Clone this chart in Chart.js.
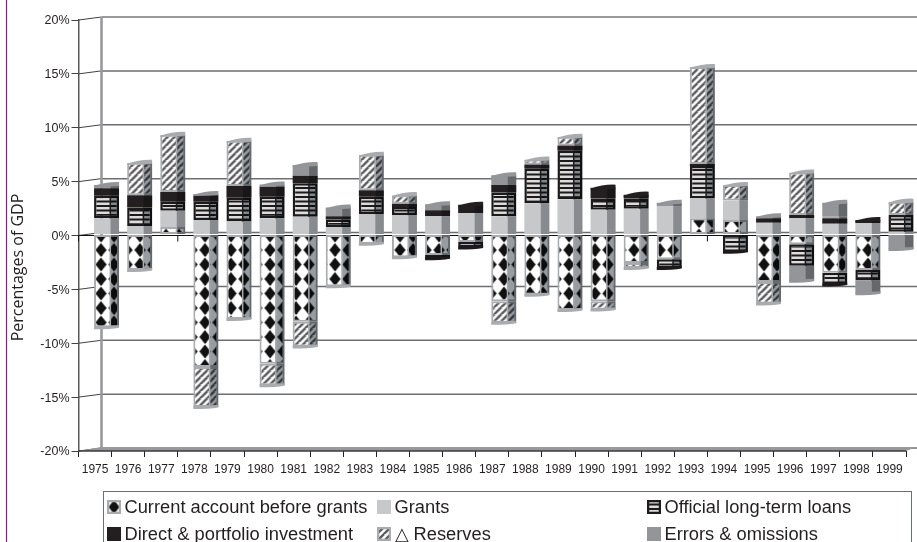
<!DOCTYPE html>
<html>
<head>
<meta charset="utf-8">
<title>Percentages of GDP</title>
<script src="https://cdn.jsdelivr.net/npm/chart.js@4"></script>
<style>
  html, body { margin: 0; padding: 0; background: #fff; overflow: hidden; }
  #wrap { position: relative; width: 917px; height: 542px; overflow: hidden; }
  #legend {
    position: absolute; left: 103px; top: 491px; width: 807px; height: 70px;
    border: 1.5px solid #6d6e71; font-family: "Liberation Sans", Arial, sans-serif;
    font-size: 18.3px; color: #231f20;
  }
  .item { position: absolute; white-space: nowrap; line-height: 20px; }
  .item canvas { position: absolute; left: 0; top: 3px; }
  .item span { position: absolute; left: 17.5px; top: 0; }
</style>
</head>
<body>
<div id="wrap">
  <canvas id="chart" width="917" height="542"></canvas>
  <div id="legend"></div>
</div>
<script>
const years = ["1975","1976","1977","1978","1979","1980","1981","1982","1983","1984","1985","1986","1987",
  "1988","1989","1990","1991","1992","1993","1994","1995","1996","1997","1998","1999"];

// percent of GDP
const currentAccount = [-8.6,-3.3,0.7,-12.3,-7.85,-12,-8.1,-4.8,-0.85,-2.1,-1.9,-0.7,-6.2,-5.6,-7,-6.2,-2.65,-2.3,1.5,1.35,-4.4,-0.9,-3.55,-3.3,0];
const grants = [1.5,0.8,1.5,1.35,1.2,1.5,1.65,0.7,1.9,1.8,1.7,2,1.7,2.9,3.27,2.3,2.4,2.6,1.85,1.8,1.1,1.5,1,1.05,0.25];
const officialLoans = [2.1,1.7,0.85,1.7,2.2,2,3.1,0.7,1.6,0.75,-0.3,-0.5,2.2,3.2,4.5,1.05,0.95,-0.8,3,-1.6,0,-2,-1.1,-0.95,1.55];
const directInvestment = [0.7,1.15,0.9,0.6,1.1,0.93,0.7,0.3,0.6,0.3,0.55,0.75,0.7,0.4,0.5,1,0.35,0,0.2,0,0.4,0.3,0.5,0.3,0];
const reserves = [0,3,5.3,-3.7,4.2,-2,-2.3,0,3.3,0.8,0,0,-2,0.45,0.8,-0.75,-0.45,0,9,1.45,-2,3.95,0.15,0,1.25];
const errorsOmissions = [0.3,0,0,0.1,0,0.2,1,0.8,0,0,0.55,0,0.9,0,0,0,0,0.35,0,0,0.2,-1.4,1.3,-1.2,-1.35];

const FONT = '"Liberation Sans", Arial, sans-serif';
const DEPTH_X = 23, DEPTH_Y = 3;

function tile(w, h, paint) {
  const c = document.createElement("canvas");
  c.width = w; c.height = h;
  paint(c.getContext("2d"));
  return c.getContext("2d").createPattern(c, "repeat");
}

// two diamonds per tile so the vertical period can be 14.5, drawn wrapped at the edges
const diamonds = tile(13, 29, g => {
  g.fillStyle = "#fff"; g.fillRect(0, 0, 13, 29);
  g.fillStyle = "#111";
  [-1.5, 11.5].forEach(cx => {
    [-10, 4.5, 19, 33.5].forEach(cy => {
      g.beginPath();
      g.moveTo(cx, cy - 7); g.lineTo(cx + 5.6, cy); g.lineTo(cx, cy + 7); g.lineTo(cx - 5.6, cy);
      g.fill();
    });
  });
});
const hatch = tile(7, 7, g => {
  g.fillStyle = "#fff"; g.fillRect(0, 0, 7, 7);
  g.strokeStyle = "#5a5b5d"; g.lineWidth = 2.4;
  [[-7, 7, 0, 0], [0, 7, 7, 0], [0, 14, 14, 0]].forEach(l => {
    g.beginPath(); g.moveTo(l[0], l[1]); g.lineTo(l[2], l[3]); g.stroke();
  });
});
const stripes = tile(5, 9, g => {
  g.fillStyle = "#1c1a1b"; g.fillRect(0, 0, 5, 9);
  g.fillStyle = "#dcdcdc"; g.fillRect(0, 1, 5, 2.5); g.fillRect(0, 5.5, 5, 2.5);
});

const toBars = values => values.map(v => v || null);

const series = [
  { label: "Current account before grants", data: toBars(currentAccount), backgroundColor: diamonds, borderColor: "#a9abae", borderWidth: 2, cap: "#a9abae", side: "#969ca1" },
  { label: "Grants", data: toBars(grants), backgroundColor: "#c7c8ca", borderWidth: 0, cap: "#c7c8ca", side: "#adb1b4" },
  { label: "Official long-term loans", data: toBars(officialLoans), backgroundColor: stripes, borderColor: "#1c1a1b", borderWidth: 2.5, cap: "#1c1a1b", side: "#969ca1" },
  { label: "Direct & portfolio investment", data: toBars(directInvestment), backgroundColor: "#231f20", borderWidth: 0, cap: "#231f20", side: "#adb1b4" },
  { label: "△ Reserves", data: toBars(reserves), backgroundColor: hatch, borderColor: "#a9abae", borderWidth: 2, cap: "#a9abae", side: "#969ca1" },
  { label: "Errors & omissions", data: toBars(errorsOmissions), backgroundColor: "#939598", borderWidth: 0, cap: "#939598", side: "#adb1b4" }
];

// walls, floor and zero line sit behind the bars
const wallPlugin = {
  id: "wall",
  beforeDatasetsDraw(chart) {
    const { ctx, scales: { x, y }, chartArea: a } = chart;
    const W = chart.width;
    ctx.save();
    ctx.lineCap = "butt";
    y.ticks.forEach(t => {
      const py = y.getPixelForValue(t.value);
      ctx.strokeStyle = "#414042"; ctx.lineWidth = 1;
      ctx.beginPath(); ctx.moveTo(a.left, py); ctx.lineTo(a.left + DEPTH_X, py - DEPTH_Y); ctx.stroke();
      ctx.strokeStyle = t.value === 20 ? "#98999b" : "#6d6e71";
      ctx.lineWidth = t.value === 20 ? 2.2 : 1.5;
      ctx.beginPath(); ctx.moveTo(a.left + DEPTH_X, py - DEPTH_Y); ctx.lineTo(W, py - DEPTH_Y); ctx.stroke();
    });
    // back corner
    ctx.strokeStyle = "#98999b"; ctx.lineWidth = 2.6;
    ctx.beginPath(); ctx.moveTo(a.left + DEPTH_X, a.top - DEPTH_Y); ctx.lineTo(a.left + DEPTH_X, a.bottom - DEPTH_Y); ctx.stroke();
    // floor
    ctx.fillStyle = "#98999b";
    ctx.beginPath();
    ctx.moveTo(a.left, a.bottom); ctx.lineTo(a.left + DEPTH_X, a.bottom - DEPTH_Y - 1);
    ctx.lineTo(W, a.bottom - DEPTH_Y - 1); ctx.lineTo(a.right, a.bottom); ctx.closePath(); ctx.fill();
    ctx.strokeStyle = "#3a3a3c"; ctx.lineWidth = 1.6;
    ctx.beginPath(); ctx.moveTo(a.left, a.bottom); ctx.lineTo(a.right, a.bottom); ctx.stroke();
    // zero axis with its ticks
    const zero = y.getPixelForValue(0);
    ctx.strokeStyle = "#111"; ctx.lineWidth = 1;
    ctx.beginPath(); ctx.moveTo(a.left, zero); ctx.lineTo(a.right, zero); ctx.stroke();
    const step = x.getPixelForValue(1) - x.getPixelForValue(0);
    years.forEach((_, i) => {
      const px = x.getPixelForValue(i) - step / 2;
      ctx.beginPath(); ctx.moveTo(px, zero); ctx.lineTo(px, zero + 6); ctx.stroke();
    });
    ctx.restore();
    // bars stand halfway into the depth
    ctx.save();
    ctx.translate(DEPTH_X / 2, -1);
  },
  afterDatasetsDraw(chart) {
    const ctx = chart.ctx;
    years.forEach((_, i) => {
      let top = null, bottom = null;
      series.forEach((s, d) => {
        const bar = chart.getDatasetMeta(d).data[i];
        const v = s.data[i];
        if (v == null) return;
        const left = bar.x - bar.width / 2;
        const sideX = left + bar.width * 0.66;
        const y0 = Math.min(bar.y, bar.base), h = Math.abs(bar.y - bar.base);
        ctx.save();
        ctx.globalCompositeOperation = "multiply";
        ctx.fillStyle = s.side;
        ctx.fillRect(sideX, y0, left + bar.width - sideX, h);
        ctx.restore();
        if (s.borderWidth) {
          ctx.fillStyle = s.cap;
          ctx.fillRect(sideX - 1, y0, 1.5, h);
        }
        if (v > 0) top = { bar, s };
        if (v < 0) bottom = { bar, s };
      });
      if (top) {
        const { bar, s } = top;
        const l = bar.x - bar.width / 2, r = bar.x + bar.width / 2;
        ctx.fillStyle = s.cap;
        ctx.beginPath();
        ctx.moveTo(l, bar.y + 1);
        ctx.quadraticCurveTo(bar.x, bar.y - 3.5, r, bar.y - 3);
        ctx.lineTo(r, bar.y + 1);
        ctx.quadraticCurveTo(bar.x + 6, bar.y + 1.5, l, bar.y + 2);
        ctx.closePath(); ctx.fill();
      }
      if (bottom) {
        const { bar, s } = bottom;
        const l = bar.x - bar.width / 2, r = bar.x + bar.width / 2;
        ctx.fillStyle = s.cap;
        ctx.beginPath();
        ctx.moveTo(l, bar.y - 1);
        ctx.lineTo(r, bar.y - 2);
        ctx.lineTo(r, bar.y + 0.5);
        ctx.quadraticCurveTo(bar.x + 4, bar.y + 2, l, bar.y + 2);
        ctx.closePath(); ctx.fill();
      }
    });
    ctx.restore();
  },
  afterDraw(chart) {
    const ctx = chart.ctx;
    ctx.save();
    // magenta trim down the page edge
    ctx.strokeStyle = "#8e1f87"; ctx.lineWidth = 1.2;
    ctx.beginPath(); ctx.moveTo(6.5, 0); ctx.lineTo(6.5, chart.height); ctx.stroke();
    ctx.translate(18, 267.5);
    ctx.rotate(-Math.PI / 2);
    ctx.fillStyle = "#231f20";
    ctx.font = '16px "Open Sans", sans-serif';
    ctx.textAlign = "center"; ctx.textBaseline = "middle";
    ctx.fillText("Percentages of GDP", 0, 0);
    ctx.restore();
  }
};

const chart = new Chart(document.getElementById("chart"), {
  type: "bar",
  data: { labels: years, datasets: series.map(s => ({ ...s, borderSkipped: false })) },
  options: {
    responsive: false,
    animation: false,
    layout: { padding: { top: 20, right: 11, bottom: 69, left: 0 } },
    datasets: { bar: { categoryPercentage: 0.755, barPercentage: 1 } },
    plugins: { legend: { display: false }, tooltip: { enabled: false } },
    scales: {
      x: {
        stacked: true,
        afterFit: s => { s.height = 22; },
        grid: { drawOnChartArea: false, color: "#231f20", tickLength: 6 },
        border: { display: false },
        ticks: { color: "#231f20", font: { family: FONT, size: 12 }, padding: 5, maxRotation: 0, autoSkip: false }
      },
      y: {
        stacked: true,
        min: -20,
        max: 20,
        afterFit: s => { s.width = 78.5; },
        grid: { drawOnChartArea: false, color: "#414042", tickLength: 7 },
        border: { display: true, color: "#58595b", width: 1.5 },
        ticks: { stepSize: 5, padding: 2, color: "#231f20", font: { family: FONT, size: 12.5 }, labelOffset: 1, callback: v => v + "%" }
      }
    }
  },
  plugins: [wallPlugin]
});

// legend is a fixed three column grid, easier outside the canvas
const legendColumns = [3, 273, 543];
const legendRows = [5, 32];
const legendBox = document.getElementById("legend");
chart.data.datasets.forEach((ds, i) => {
  const item = document.createElement("div");
  item.className = "item";
  item.style.left = legendColumns[i % 3] + "px";
  item.style.top = legendRows[Math.floor(i / 3)] + "px";
  const swatch = document.createElement("canvas");
  swatch.width = 14; swatch.height = 14;
  const g = swatch.getContext("2d");
  g.save();
  // centre one diamond in the current account swatch
  if (i === 0) g.translate(-4.5, 2.5);
  g.fillStyle = ds.backgroundColor; g.fillRect(-10, -10, 34, 34);
  g.restore();
  if (ds.borderWidth) { g.strokeStyle = ds.borderColor; g.lineWidth = 2.5; g.strokeRect(1, 1, 12, 12); }
  const text = document.createElement("span");
  text.textContent = ds.label;
  item.appendChild(swatch);
  item.appendChild(text);
  legendBox.appendChild(item);
});
</script>
</body>
</html>
